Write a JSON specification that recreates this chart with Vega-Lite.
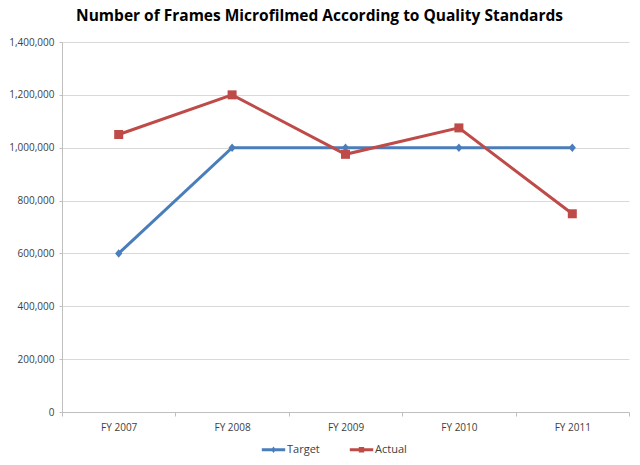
{
  "$schema": "https://vega.github.io/schema/vega-lite/v6.json",
  "width": 567,
  "height": 370,
  "autosize": {"type": "none"},
  "padding": {"left": 62, "top": 42, "right": 11, "bottom": 53},
  "background": "white",
  "title": {
    "text": "Number of Frames Microfilmed According to Quality Standards",
    "font": "Open Sans",
    "fontSize": 15.5,
    "fontWeight": "bold",
    "color": "#000000",
    "anchor": "middle",
    "dx": -26,
    "offset": 13
  },
  "config": {
    "view": {"stroke": null},
    "font": "Open Sans",
    "axis": {"labelFont": "Open Sans", "labelColor": "#404040", "labelFontSize": 10}
  },
  "data": {
    "values": [
      {"year": "FY 2007", "series": "Target", "value": 600000},
      {"year": "FY 2008", "series": "Target", "value": 1000000},
      {"year": "FY 2009", "series": "Target", "value": 1000000},
      {"year": "FY 2010", "series": "Target", "value": 1000000},
      {"year": "FY 2011", "series": "Target", "value": 1000000},
      {"year": "FY 2007", "series": "Actual", "value": 1050000},
      {"year": "FY 2008", "series": "Actual", "value": 1200000},
      {"year": "FY 2009", "series": "Actual", "value": 975000},
      {"year": "FY 2010", "series": "Actual", "value": 1075000},
      {"year": "FY 2011", "series": "Actual", "value": 750000}
    ]
  },
  "encoding": {
    "x": {
      "field": "year",
      "type": "nominal",
      "bandPosition": 0.5,
      "scale": {"type": "band", "paddingInner": 0, "paddingOuter": 0},
      "axis": {
        "title": null,
        "labelAngle": 0,
        "tickBand": "extent",
        "domainColor": "#bfbfbf",
        "tickColor": "#bfbfbf",
        "tickSize": 4,
        "labelPadding": 6
      }
    },
    "y": {
      "field": "value",
      "type": "quantitative",
      "scale": {"domain": [0, 1400000], "nice": false},
      "axis": {
        "title": null,
        "values": [0, 200000, 400000, 600000, 800000, 1000000, 1200000, 1400000],
        "format": ",d",
        "grid": true,
        "gridColor": "#d9d9d9",
        "domainColor": "#bfbfbf",
        "tickColor": "#bfbfbf",
        "tickSize": 3,
        "labelPadding": 5
      }
    },
    "color": {
      "field": "series",
      "type": "nominal",
      "scale": {"domain": ["Target", "Actual"], "range": ["#4a7ebb", "#be4b48"]},
      "legend": {
        "title": null,
        "orient": "none",
        "direction": "horizontal",
        "legendX": 206,
        "legendY": 402,
        "padding": 0,
        "symbolSize": 81,
        "symbolType": "M-2.6,-0.33H2.6V0.33H-2.6Z",
        "symbolStrokeWidth": 0,
        "labelOffset": 8,
        "columnPadding": 29,
        "labelFont": "Open Sans",
        "labelFontSize": 11,
        "labelColor": "#404040",
        "encode": {
          "symbols": {
            "update": {
              "shape": {
                "signal": "datum.value === 'Target' ? 'M-2.6,-0.33H2.6V0.33H-2.6Z M0,-0.7L0.55,0L0,0.7L-0.55,0Z' : 'M-2.6,-0.33H2.6V0.33H-2.6Z M-0.6,-0.6H0.6V0.6H-0.6Z'"
              }
            }
          }
        }
      }
    }
  },
  "layer": [
    {
      "mark": {"type": "line", "strokeWidth": 3}
    },
    {
      "transform": [{"filter": "datum.series === 'Target'"}],
      "mark": {"type": "point", "filled": true, "opacity": 1, "size": 81, "shape": "M0,-0.95L0.8,0L0,0.95L-0.8,0Z"}
    },
    {
      "transform": [{"filter": "datum.series === 'Actual'"}],
      "mark": {"type": "point", "filled": true, "opacity": 1, "size": 81, "shape": "M-1,-1H1V1H-1Z"}
    }
  ]
}
